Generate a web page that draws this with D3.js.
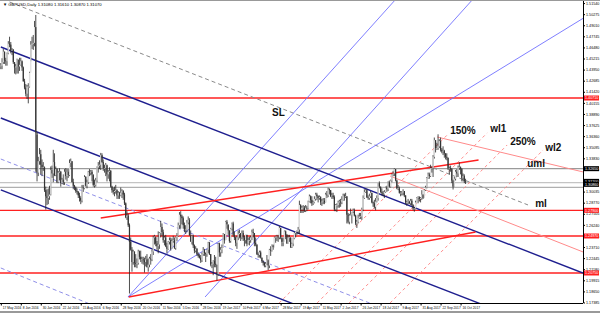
<!DOCTYPE html>
<html><head><meta charset="utf-8">
<script src="https://cdn.jsdelivr.net/npm/d3@7"></script>
<style>body{margin:0;background:#fff}svg{display:block;font-family:"Liberation Sans",Arial,sans-serif}</style>
</head><body><svg id="c" width="600" height="313"></svg>
<script>
// ---- DATA: daily bars [high, low, close], open = previous close ----
const startDate = "2016-05-17";
const holidays = ["2016-12-26"];
const may2016 = [[1.4470,1.4400,1.4440],[1.4525,1.4400,1.4480],[1.4630,1.4460,1.4600],[1.4600,1.4460,1.4500],[1.4530,1.4440,1.4490],[1.4590,1.4440,1.4580],[1.4720,1.4570,1.4690],[1.4770,1.4650,1.4680],[1.4710,1.4580,1.4610],[1.4640,1.4560,1.4620],[1.4630,1.4460,1.4480]];
const jun2016 = [[1.4480,1.4350,1.4420],[1.4460,1.4340,1.4430],[1.4520,1.4350,1.4510],[1.4450,1.4350,1.4430],[1.4530,1.4380,1.4450],[1.4530,1.4440,1.4490],[1.4500,1.4380,1.4420],[1.4430,1.4260,1.4260],[1.4290,1.4170,1.4190],[1.4230,1.4090,1.4120],[1.4220,1.4060,1.4200],[1.4240,1.4010,1.4200],[1.4370,1.4190,1.4360],[1.4720,1.4490,1.4680],[1.4770,1.4630,1.4690],[1.4790,1.4620,1.4700],[1.4950,1.4660,1.4880],[1.5018,1.3229,1.3680],[1.3650,1.3120,1.3220],[1.3400,1.3180,1.3350],[1.3500,1.3310,1.3430],[1.3480,1.3200,1.3310]];
const jul2016 = [[1.3370,1.3180,1.3280],[1.3340,1.3240,1.3280],[1.3290,1.3000,1.3020],[1.3060,1.2798,1.2950],[1.3030,1.2850,1.2930],[1.3040,1.2860,1.2950],[1.3070,1.2910,1.2970],[1.3290,1.2960,1.3250],[1.3300,1.3160,1.3210],[1.3480,1.3110,1.3340],[1.3440,1.3180,1.3190],[1.3290,1.3180,1.3260],[1.3270,1.3100,1.3110],[1.3240,1.3100,1.3220],[1.3270,1.3130,1.3230],[1.3240,1.3060,1.3100],[1.3160,1.3090,1.3140],[1.3200,1.3080,1.3110],[1.3260,1.3080,1.3230],[1.3270,1.3140,1.3180],[1.3260,1.3120,1.3230]];
const aug2016 = [[1.3260,1.3160,1.3190],[1.3370,1.3180,1.3330],[1.3380,1.3280,1.3350],[1.3350,1.3110,1.3110],[1.3150,1.3030,1.3070],[1.3080,1.3020,1.3050],[1.3060,1.2990,1.3010],[1.3040,1.2970,1.3000],[1.3010,1.2930,1.2960],[1.2990,1.2890,1.2930],[1.2950,1.2860,1.2900],[1.3080,1.2880,1.3050],[1.3080,1.3000,1.3040],[1.3190,1.3030,1.3170],[1.3180,1.3060,1.3070],[1.3140,1.3040,1.3110],[1.3240,1.3090,1.3230],[1.3260,1.3180,1.3220],[1.3250,1.3190,1.3230],[1.3250,1.3120,1.3200],[1.3190,1.3060,1.3080],[1.3140,1.3050,1.3080],[1.3160,1.3060,1.3130]];
const sep2016 = [[1.3290,1.3110,1.3280],[1.3340,1.3220,1.3300],[1.3360,1.3260,1.3310],[1.3445,1.3250,1.3420],[1.3440,1.3330,1.3340],[1.3370,1.3240,1.3270],[1.3310,1.3220,1.3270],[1.3330,1.3180,1.3310],[1.3300,1.3120,1.3200],[1.3250,1.3150,1.3230],[1.3280,1.3120,1.3240],[1.3250,1.3050,1.3060],[1.3070,1.2990,1.3020],[1.3050,1.2970,1.3000],[1.3060,1.2950,1.3010],[1.3080,1.2980,1.3020],[1.3030,1.2920,1.2960],[1.3010,1.2920,1.2990],[1.3000,1.2920,1.2960],[1.3050,1.2950,1.2990],[1.3030,1.2930,1.3010],[1.3020,1.2910,1.2970]];
const oct2016 = [[1.2990,1.2850,1.2870],[1.2880,1.2700,1.2710],[1.2780,1.2680,1.2730],[1.2750,1.2600,1.2620],[1.2640,1.1841,1.2430],[1.2480,1.2330,1.2340],[1.2370,1.2090,1.2200],[1.2340,1.2170,1.2320],[1.2320,1.2140,1.2190],[1.2290,1.2140,1.2180],[1.2240,1.2130,1.2190],[1.2340,1.2170,1.2320],[1.2330,1.2230,1.2260],[1.2330,1.2200,1.2230],[1.2260,1.2180,1.2230],[1.2260,1.2170,1.2220],[1.2250,1.2080,1.2200],[1.2270,1.2150,1.2230],[1.2290,1.2140,1.2140],[1.2240,1.2090,1.2170],[1.2260,1.2140,1.2240]];
const nov2016 = [[1.2290,1.2170,1.2230],[1.2340,1.2210,1.2320],[1.2500,1.2280,1.2480],[1.2510,1.2400,1.2490],[1.2480,1.2380,1.2410],[1.2440,1.2340,1.2380],[1.2550,1.2300,1.2400],[1.2540,1.2350,1.2530],[1.2670,1.2480,1.2600],[1.2640,1.2500,1.2540],[1.2570,1.2420,1.2450],[1.2500,1.2390,1.2480],[1.2510,1.2370,1.2380],[1.2420,1.2300,1.2350],[1.2440,1.2340,1.2430],[1.2480,1.2400,1.2450],[1.2480,1.2330,1.2350],[1.2470,1.2350,1.2440],[1.2500,1.2420,1.2450],[1.2480,1.2350,1.2360],[1.2490,1.2340,1.2480],[1.2530,1.2440,1.2500]];
const dec2016 = [[1.2650,1.2490,1.2620],[1.2770,1.2580,1.2740],[1.2780,1.2580,1.2720],[1.2740,1.2630,1.2700],[1.2720,1.2580,1.2620],[1.2650,1.2540,1.2570],[1.2620,1.2520,1.2570],[1.2680,1.2540,1.2650],[1.2720,1.2630,1.2680],[1.2700,1.2510,1.2500],[1.2560,1.2440,1.2430],[1.2510,1.2400,1.2500],[1.2510,1.2360,1.2390],[1.2400,1.2300,1.2330],[1.2380,1.2310,1.2350],[1.2360,1.2270,1.2290],[1.2310,1.2250,1.2270],[1.2290,1.2240,1.2250],[1.2280,1.2190,1.2220],[1.2310,1.2200,1.2290],[1.2370,1.2270,1.2340]];
const jan2017 = [[1.2350,1.2270,1.2300],[1.2310,1.2200,1.2290],[1.2350,1.2260,1.2340],[1.2430,1.2300,1.2420],[1.2430,1.2280,1.2290],[1.2290,1.2150,1.2170],[1.2200,1.2130,1.2180],[1.2220,1.2050,1.2210],[1.2280,1.2140,1.2180],[1.2260,1.2140,1.2170],[1.2080,1.1986,1.2060],[1.2420,1.2040,1.2410],[1.2420,1.2260,1.2310],[1.2370,1.2260,1.2340],[1.2400,1.2300,1.2360],[1.2530,1.2360,1.2520],[1.2520,1.2410,1.2450],[1.2670,1.2450,1.2660],[1.2680,1.2580,1.2630],[1.2620,1.2510,1.2560],[1.2560,1.2420,1.2440],[1.2590,1.2420,1.2580]];
const feb2017 = [[1.2650,1.2560,1.2640],[1.2660,1.2490,1.2510],[1.2550,1.2450,1.2480],[1.2490,1.2380,1.2420],[1.2500,1.2350,1.2480],[1.2560,1.2450,1.2520],[1.2570,1.2470,1.2530],[1.2530,1.2440,1.2480],[1.2560,1.2460,1.2530],[1.2560,1.2440,1.2480],[1.2500,1.2380,1.2450],[1.2510,1.2410,1.2510],[1.2510,1.2380,1.2410],[1.2480,1.2400,1.2450],[1.2490,1.2390,1.2450],[1.2500,1.2420,1.2480],[1.2570,1.2450,1.2540],[1.2580,1.2480,1.2530],[1.2530,1.2380,1.2420],[1.2480,1.2380,1.2400]];
const mar2017 = [[1.2400,1.2280,1.2290],[1.2310,1.2250,1.2280],[1.2330,1.2250,1.2310],[1.2330,1.2240,1.2250],[1.2250,1.2190,1.2210],[1.2220,1.2160,1.2190],[1.2200,1.2140,1.2160],[1.2200,1.2140,1.2180],[1.2280,1.2170,1.2220],[1.2230,1.2109,1.2160],[1.2350,1.2130,1.2340],[1.2380,1.2270,1.2330],[1.2400,1.2320,1.2390],[1.2400,1.2340,1.2370],[1.2490,1.2370,1.2480],[1.2500,1.2420,1.2490],[1.2510,1.2440,1.2490],[1.2510,1.2430,1.2480],[1.2610,1.2460,1.2590],[1.2590,1.2460,1.2480],[1.2470,1.2380,1.2430],[1.2480,1.2380,1.2430],[1.2560,1.2440,1.2550]];
const apr2017 = [[1.2560,1.2460,1.2510],[1.2520,1.2410,1.2410],[1.2510,1.2410,1.2480],[1.2510,1.2430,1.2480],[1.2480,1.2360,1.2370],[1.2420,1.2360,1.2410],[1.2480,1.2380,1.2470],[1.2540,1.2460,1.2530],[1.2550,1.2480,1.2550],[1.2560,1.2510,1.2550],[1.2600,1.2520,1.2570],[1.2900,1.2520,1.2850],[1.2860,1.2760,1.2800],[1.2840,1.2760,1.2820],[1.2850,1.2760,1.2820],[1.2840,1.2770,1.2790],[1.2850,1.2770,1.2820],[1.2840,1.2780,1.2810],[1.2900,1.2800,1.2890],[1.2970,1.2880,1.2950]];
const may2017 = [[1.2960,1.2870,1.2910],[1.2950,1.2840,1.2870],[1.2900,1.2850,1.2880],[1.2950,1.2870,1.2920],[1.2990,1.2900,1.2970],[1.2990,1.2910,1.2950],[1.2960,1.2880,1.2930],[1.2960,1.2910,1.2940],[1.2950,1.2850,1.2880],[1.2920,1.2840,1.2890],[1.2930,1.2860,1.2900],[1.2930,1.2860,1.2880],[1.2990,1.2880,1.2970],[1.3010,1.2930,1.2960],[1.3048,1.2940,1.3030],[1.3040,1.2970,1.3020],[1.3020,1.2940,1.2950],[1.2990,1.2920,1.2960],[1.2990,1.2920,1.2940],[1.2960,1.2780,1.2800],[1.2860,1.2780,1.2850],[1.2870,1.2770,1.2850],[1.2900,1.2820,1.2880]];
const jun2017 = [[1.2910,1.2820,1.2890],[1.2920,1.2830,1.2880],[1.2950,1.2860,1.2910],[1.2980,1.2900,1.2960],[1.2980,1.2900,1.2950],[1.2990,1.2930,1.2950],[1.2950,1.2640,1.2740],[1.2760,1.2640,1.2660],[1.2750,1.2630,1.2730],[1.2810,1.2730,1.2740],[1.2770,1.2640,1.2770],[1.2810,1.2760,1.2790],[1.2810,1.2720,1.2730],[1.2740,1.2620,1.2640],[1.2680,1.2589,1.2660],[1.2740,1.2640,1.2700],[1.2760,1.2690,1.2720],[1.2760,1.2690,1.2720],[1.2820,1.2680,1.2800],[1.2960,1.2780,1.2930],[1.3030,1.2920,1.3000],[1.3030,1.2990,1.3020]];
const jul2017 = [[1.3030,1.2930,1.2940],[1.2960,1.2910,1.2930],[1.2980,1.2910,1.2950],[1.3010,1.2930,1.2990],[1.2990,1.2870,1.2880],[1.2890,1.2830,1.2870],[1.2910,1.2810,1.2830],[1.2930,1.2790,1.2890],[1.2960,1.2880,1.2930],[1.3100,1.2900,1.3100],[1.3120,1.3040,1.3060],[1.3060,1.2990,1.3000],[1.3040,1.2960,1.2990],[1.3010,1.2950,1.2970],[1.3020,1.2930,1.3000],[1.3060,1.2990,1.3050],[1.3070,1.3000,1.3030],[1.3120,1.3010,1.3110],[1.3130,1.3050,1.3060],[1.3140,1.3050,1.3130],[1.3210,1.3110,1.3200]];
const aug2017 = [[1.3240,1.3180,1.3210],[1.3268,1.3180,1.3260],[1.3260,1.3120,1.3130],[1.3140,1.3030,1.3040],[1.3080,1.3020,1.3040],[1.3060,1.2980,1.2990],[1.3010,1.2950,1.2990],[1.3010,1.2960,1.2990],[1.3030,1.2960,1.3010],[1.3010,1.2940,1.2960],[1.2960,1.2860,1.2880],[1.2900,1.2840,1.2880],[1.2920,1.2860,1.2890],[1.2900,1.2860,1.2870],[1.2920,1.2850,1.2900],[1.2920,1.2840,1.2850],[1.2860,1.2790,1.2810],[1.2830,1.2774,1.2810],[1.2900,1.2800,1.2880],[1.2940,1.2880,1.2930],[1.2950,1.2870,1.2940],[1.2950,1.2890,1.2920],[1.2940,1.2880,1.2930]];
const sep2017 = [[1.3020,1.2910,1.2970],[1.2970,1.2920,1.2930],[1.3030,1.2930,1.3020],[1.3070,1.3010,1.3050],[1.3170,1.3040,1.3160],[1.3220,1.3150,1.3200],[1.3220,1.3150,1.3180],[1.3310,1.3170,1.3270],[1.3290,1.3220,1.3270],[1.3420,1.3170,1.3400],[1.3620,1.3380,1.3590],[1.3590,1.3450,1.3500],[1.3560,1.3480,1.3500],[1.3657,1.3480,1.3520],[1.3600,1.3500,1.3580],[1.3620,1.3460,1.3480],[1.3500,1.3440,1.3460],[1.3520,1.3420,1.3470],[1.3480,1.3390,1.3440],[1.3440,1.3370,1.3400],[1.3440,1.3360,1.3390]];
const oct2017 = [[1.3390,1.3250,1.3270],[1.3290,1.3200,1.3270],[1.3300,1.3230,1.3260],[1.3270,1.3100,1.3130],[1.3140,1.3027,1.3060],[1.3170,1.3060,1.3150],[1.3250,1.3130,1.3230],[1.3260,1.3170,1.3210],[1.3300,1.3170,1.3280],[1.3338,1.3250,1.3280],[1.3290,1.3200,1.3260],[1.3270,1.3120,1.3160],[1.3210,1.3120,1.3180],[1.3200,1.3100,1.3120],[1.3150,1.3090,1.3110]];

const dateLabels = ["17 May 2016","8 Jun 2016","30 Jun 2016","22 Jul 2016","15 Aug 2016","6 Sep 2016","28 Sep 2016","20 Oct 2016","11 Nov 2016","5 Dec 2016","28 Dec 2016","19 Jan 2017","10 Feb 2017","6 Mar 2017","28 Mar 2017","19 Apr 2017","11 May 2017","2 Jun 2017","26 Jun 2017","18 Jul 2017","9 Aug 2017","31 Aug 2017","22 Sep 2017","16 Oct 2017"];
const dateLabelBars = [0,16,32,48,64,80,96,112,128,144,160,176,192,208,224,240,256,272,288,304,320,336,352,368];
const priceTicks = [1.51540,1.50275,1.49010,1.47745,1.46480,1.45215,1.43950,1.42685,1.41420,1.40155,1.38890,1.37625,1.36360,1.35095,1.33830,1.32565,1.31300,1.30035,1.28770,1.27505,1.26240,1.24975,1.23710,1.22445,1.21180,1.19915,1.18650,1.17385];

// horizontal levels
const redLevels = [1.4071, 1.2790, 1.2497, 1.2075];
const grayLevels = [{p:1.3265,c:"#9a9a9a"},{p:1.3105,c:"#c4c4c4"},{p:1.3052,c:"#b0b0b0"}];
const priceTags = [{p:1.3265,c:"#000"},{p:1.3120,c:"#000"},{p:1.3086,c:"#000"}];

// drawn tool lines: [barIndex, price] endpoints
const navyLines = [[[0,1.4653],[466,1.2075]],[[0,1.3843],[390,1.1690]],[[0,1.3022],[240,1.1690]]];
const lavenderDashed = [[[0,1.3375],[310,1.1650]],[[0,1.2132],[75,1.1700]]];
const slLine = [[7,1.5166],[422,1.2851]];
const blueLines = [[[101.8,1.1801],[315.6,1.5189]],[[163.5,1.1801],[377.3,1.5189]],[[101.8,1.1801],[467.8,1.4995]]];
const redSolid = [[[102.4,1.1801],[380,1.2543]],[[80,1.2702],[382.4,1.3364]]];
const pinkDashed = [[[222.8,1.1733],[357.3,1.3649]],[[253.2,1.1733],[389.3,1.3672]],[[278.8,1.1733],[405.3,1.3535]],[[311.6,1.1733],[434.1,1.3478]]];
const pinkSolid = [[[349.3,1.3626],[466.2,1.3227]],[[311.6,1.3181],[466.2,1.2314]]];
const annotations = [{t:"SL",i:217.1,p:1.3866},{t:"150%",i:359.7,p:1.3660},{t:"wl1",i:391.7,p:1.3683},{t:"250%",i:407.7,p:1.3535},{t:"wl2",i:435.7,p:1.3467},{t:"uml",i:421.3,p:1.3284},{t:"ml",i:427.7,p:1.2828}];
const title = "GBPUSD,Daily  1.31080 1.31610 1.30870 1.31070";

// ---- BUILD ----
const months = [may2016,jun2016,jul2016,aug2016,sep2016,oct2016,nov2016,dec2016,jan2017,feb2017,mar2017,apr2017,may2017,jun2017,jul2017,aug2017,sep2017,oct2017];
const bars = months.flat().map((b,i,a)=>({i, h:b[0], l:b[1], c:b[2], o: i? a[i-1][2] : b[2]}));

const W=600,H=313, plotR=583, plotB=303;
const svg = d3.select("#c");
const x = d3.scaleLinear().domain([0,466]).range([0.8,583]);
const y = d3.scaleLinear().domain([1.17326,1.51890]).range([plotB,0]);

svg.append("defs").append("clipPath").attr("id","clip").append("rect").attr("x",0).attr("y",0).attr("width",plotR).attr("height",plotB);
const g = svg.append("g").attr("clip-path","url(#clip)");
const line = d3.line().x(d=>x(d[0])).y(d=>y(d[1]));

g.selectAll(".gl").data(grayLevels).join("line").attr("x1",0).attr("x2",plotR).attr("y1",d=>y(d.p)).attr("y2",d=>y(d.p)).attr("stroke",d=>d.c).attr("stroke-width",1.2);
g.selectAll(".rl").data(redLevels).join("line").attr("x1",0).attr("x2",plotR).attr("y1",d=>y(d)).attr("y2",d=>y(d)).attr("stroke","#ff2020").attr("stroke-width",1.3);

function drawSet(data, color, w, dash){
  g.append("g").selectAll("path").data(data).join("path").attr("d",line).attr("fill","none").attr("stroke",color).attr("stroke-width",w).attr("stroke-dasharray",dash||null);
}
drawSet([slLine],"#8a8a8a",1,"4,3");
drawSet(lavenderDashed,"#8f8fe8",1,"4,3");
drawSet(blueLines,"#7070ff",0.9);
drawSet(pinkDashed,"#ff8080",0.9,"3,3");
drawSet(pinkSolid,"#ff8a8a",1);
drawSet(navyLines,"#1f1f8f",1.4);
drawSet(redSolid,"#ff2020",1.4);

const cg = g.append("g");
cg.selectAll("line").data(bars).join("line")
  .attr("x1",d=>x(d.i)).attr("x2",d=>x(d.i)).attr("y1",d=>y(d.h)).attr("y2",d=>y(d.l))
  .attr("stroke","#222").attr("stroke-width",0.8);
cg.selectAll("rect").data(bars).join("rect")
  .attr("x",d=>x(d.i)-0.6).attr("width",1.2)
  .attr("y",d=>y(Math.max(d.o,d.c))).attr("height",d=>Math.max(0.6,Math.abs(y(d.o)-y(d.c))))
  .attr("fill",d=>d.c>=d.o?"#ddd":"#333");

svg.append("g").selectAll("text").data(annotations).join("text")
  .attr("x",d=>x(d.i)).attr("y",d=>y(d.p)).text(d=>d.t)
  .attr("font-size",10).attr("font-weight","bold").attr("fill","#111");

svg.append("line").attr("x1",plotR+0.5).attr("x2",plotR+0.5).attr("y1",0).attr("y2",plotB).attr("stroke","#000");
svg.append("line").attr("x1",0).attr("x2",plotR).attr("y1",plotB+0.5).attr("y2",plotB+0.5).attr("stroke","#000");
svg.append("rect").attr("x",0).attr("y",0).attr("width",W).attr("height",1).attr("fill","#999");
svg.append("rect").attr("x",0).attr("y",H-2).attr("width",W).attr("height",2).attr("fill","#999");

const yAxis = d3.axisRight(y).tickValues(priceTicks).tickFormat(d3.format(".5f")).tickSize(1.5).tickPadding(1);
const ya = svg.append("g").attr("transform",`translate(${plotR+0.5},0)`).call(yAxis);
ya.select(".domain").remove();
ya.selectAll("text").attr("font-size",3.7).attr("fill","#000");

const xAxis = d3.axisBottom(x).tickValues(dateLabelBars).tickFormat((d,k)=>dateLabels[k]).tickSize(2).tickPadding(1);
const xa = svg.append("g").attr("transform",`translate(0,${plotB+0.5})`).call(xAxis);
xa.select(".domain").remove();
xa.selectAll("text").attr("font-size",3.2).attr("text-anchor","start").attr("dx",1.5).attr("fill","#000");

const tags = redLevels.map(p=>({p,c:"#ff2020"})).concat(priceTags);
const tg = svg.append("g").selectAll("g").data(tags).join("g").attr("transform",d=>`translate(${plotR+1},${y(d.p)})`);
tg.append("rect").attr("x",0).attr("y",-2.5).attr("width",15).attr("height",5).attr("fill",d=>d.c);
tg.append("text").attr("x",1).attr("y",1.4).attr("font-size",3.7).attr("fill","#fff").text(d=>d3.format(".5f")(d.p));

svg.append("text").attr("x",3).attr("y",6).attr("font-size",4.2).attr("fill","#000").text("\u25BC "+title);
</script></body></html>
